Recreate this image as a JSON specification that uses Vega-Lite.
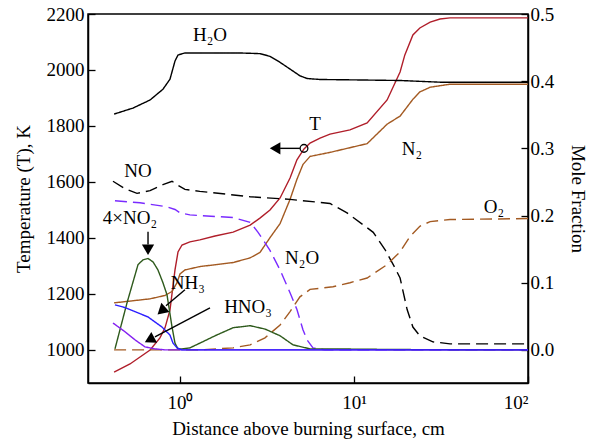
{
  "$schema": "https://vega.github.io/schema/vega-lite/v6.json",
  "width": 440,
  "height": 369,
  "autosize": {"type": "none"},
  "padding": {"left": 88, "top": 14, "right": 72, "bottom": 62},
  "config": {
    "view": {"stroke": "#000", "strokeWidth": 1.5},
    "font": "Liberation Serif",
    "axis": {
      "labelFont": "Liberation Serif",
      "titleFont": "Liberation Serif",
      "labelFontSize": 19,
      "titleFontSize": 19,
      "titleFontWeight": "normal",
      "labelColor": "#000",
      "titleColor": "#000",
      "domainColor": "#000",
      "tickColor": "#000",
      "domainWidth": 1.5,
      "tickWidth": 1.3,
      "tickSize": -7,
      "labelPadding": 11,
      "grid": false
    }
  },
  "datasets": {
    "temperature": [
      {"x": 0.418, "T": 921}, {"x": 0.516, "T": 950}, {"x": 0.673, "T": 1000},
      {"x": 0.767, "T": 1043}, {"x": 0.82, "T": 1079}, {"x": 0.876, "T": 1143},
      {"x": 0.936, "T": 1286}, {"x": 0.974, "T": 1350}, {"x": 1.027, "T": 1375},
      {"x": 1.14, "T": 1386}, {"x": 1.3, "T": 1393}, {"x": 1.59, "T": 1407},
      {"x": 2.02, "T": 1421}, {"x": 2.53, "T": 1446}, {"x": 2.88, "T": 1471},
      {"x": 3.29, "T": 1500}, {"x": 3.76, "T": 1543}, {"x": 4.29, "T": 1614},
      {"x": 4.7, "T": 1679}, {"x": 5.16, "T": 1718}, {"x": 5.59, "T": 1739},
      {"x": 6.38, "T": 1757}, {"x": 7.28, "T": 1771}, {"x": 9.48, "T": 1786},
      {"x": 11.9, "T": 1811}, {"x": 15.5, "T": 1893}, {"x": 18.4, "T": 1993},
      {"x": 19.6, "T": 2054}, {"x": 21.8, "T": 2125}, {"x": 23.9, "T": 2150},
      {"x": 27.4, "T": 2171}, {"x": 31.2, "T": 2182}, {"x": 35.6, "T": 2186},
      {"x": 100, "T": 2186}
    ],
    "species": [
      {"s": "H2O", "x": 0.418, "m": 0.351}, {"s": "H2O", "x": 0.537, "m": 0.36},
      {"s": "H2O", "x": 0.673, "m": 0.372}, {"s": "H2O", "x": 0.798, "m": 0.388},
      {"s": "H2O", "x": 0.876, "m": 0.403}, {"s": "H2O", "x": 0.936, "m": 0.43},
      {"s": "H2O", "x": 0.974, "m": 0.439}, {"s": "H2O", "x": 1.068, "m": 0.442},
      {"s": "H2O", "x": 1.59, "m": 0.442}, {"s": "H2O", "x": 2.21, "m": 0.442},
      {"s": "H2O", "x": 2.88, "m": 0.441}, {"s": "H2O", "x": 3.29, "m": 0.437},
      {"s": "H2O", "x": 3.76, "m": 0.428}, {"s": "H2O", "x": 4.29, "m": 0.418},
      {"s": "H2O", "x": 4.89, "m": 0.408}, {"s": "H2O", "x": 5.37, "m": 0.404},
      {"s": "H2O", "x": 6.38, "m": 0.4025}, {"s": "H2O", "x": 9.48, "m": 0.402},
      {"s": "H2O", "x": 18.4, "m": 0.401}, {"s": "H2O", "x": 31.2, "m": 0.3985},
      {"s": "H2O", "x": 100, "m": 0.3985},

      {"s": "N2", "x": 0.418, "m": 0.07}, {"s": "N2", "x": 0.673, "m": 0.076},
      {"s": "N2", "x": 0.82, "m": 0.081}, {"s": "N2", "x": 0.9, "m": 0.087},
      {"s": "N2", "x": 0.961, "m": 0.1}, {"s": "N2", "x": 1.0, "m": 0.113},
      {"s": "N2", "x": 1.068, "m": 0.119}, {"s": "N2", "x": 1.3, "m": 0.124},
      {"s": "N2", "x": 2.02, "m": 0.13}, {"s": "N2", "x": 2.53, "m": 0.137},
      {"s": "N2", "x": 2.88, "m": 0.145}, {"s": "N2", "x": 3.29, "m": 0.167},
      {"s": "N2", "x": 3.76, "m": 0.188}, {"s": "N2", "x": 4.29, "m": 0.224},
      {"s": "N2", "x": 4.7, "m": 0.254}, {"s": "N2", "x": 5.09, "m": 0.276},
      {"s": "N2", "x": 5.59, "m": 0.288}, {"s": "N2", "x": 7.28, "m": 0.294},
      {"s": "N2", "x": 11.9, "m": 0.307}, {"s": "N2", "x": 15.5, "m": 0.336},
      {"s": "N2", "x": 18.4, "m": 0.348}, {"s": "N2", "x": 21.8, "m": 0.373},
      {"s": "N2", "x": 23.9, "m": 0.384}, {"s": "N2", "x": 27.4, "m": 0.391},
      {"s": "N2", "x": 35.6, "m": 0.3955}, {"s": "N2", "x": 100, "m": 0.3955},

      {"s": "NO", "x": 0.412, "m": 0.251}, {"s": "NO", "x": 0.483, "m": 0.24},
      {"s": "NO", "x": 0.566, "m": 0.233}, {"s": "NO", "x": 0.673, "m": 0.237},
      {"s": "NO", "x": 0.798, "m": 0.246}, {"s": "NO", "x": 0.9, "m": 0.251},
      {"s": "NO", "x": 0.974, "m": 0.245}, {"s": "NO", "x": 1.068, "m": 0.239},
      {"s": "NO", "x": 1.3, "m": 0.236}, {"s": "NO", "x": 2.53, "m": 0.228},
      {"s": "NO", "x": 4.29, "m": 0.224}, {"s": "NO", "x": 7.28, "m": 0.218},
      {"s": "NO", "x": 9.12, "m": 0.204}, {"s": "NO", "x": 12.9, "m": 0.175},
      {"s": "NO", "x": 15.1, "m": 0.149}, {"s": "NO", "x": 17.2, "m": 0.122},
      {"s": "NO", "x": 18.4, "m": 0.107}, {"s": "NO", "x": 20.2, "m": 0.06},
      {"s": "NO", "x": 21.8, "m": 0.034}, {"s": "NO", "x": 23.9, "m": 0.021},
      {"s": "NO", "x": 28.4, "m": 0.012}, {"s": "NO", "x": 35.6, "m": 0.009},
      {"s": "NO", "x": 100, "m": 0.009},

      {"s": "N2O", "x": 0.423, "m": 0.222}, {"s": "N2O", "x": 0.589, "m": 0.219},
      {"s": "N2O", "x": 0.842, "m": 0.213}, {"s": "N2O", "x": 0.936, "m": 0.209},
      {"s": "N2O", "x": 1.0, "m": 0.204}, {"s": "N2O", "x": 1.14, "m": 0.201},
      {"s": "N2O", "x": 1.3, "m": 0.2}, {"s": "N2O", "x": 2.02, "m": 0.197},
      {"s": "N2O", "x": 2.53, "m": 0.19}, {"s": "N2O", "x": 2.81, "m": 0.175},
      {"s": "N2O", "x": 3.29, "m": 0.148}, {"s": "N2O", "x": 3.76, "m": 0.119},
      {"s": "N2O", "x": 4.29, "m": 0.085}, {"s": "N2O", "x": 4.7, "m": 0.06},
      {"s": "N2O", "x": 5.09, "m": 0.03}, {"s": "N2O", "x": 5.37, "m": 0.015},
      {"s": "N2O", "x": 5.81, "m": 0.003}, {"s": "N2O", "x": 6.8, "m": 0.0},
      {"s": "N2O", "x": 100, "m": 0.0},

      {"s": "O2", "x": 0.418, "m": 0.0}, {"s": "O2", "x": 1.3, "m": 0.0},
      {"s": "O2", "x": 2.02, "m": 0.003}, {"s": "O2", "x": 2.53, "m": 0.0075},
      {"s": "O2", "x": 3.08, "m": 0.018}, {"s": "O2", "x": 3.76, "m": 0.037},
      {"s": "O2", "x": 4.29, "m": 0.057}, {"s": "O2", "x": 4.89, "m": 0.079},
      {"s": "O2", "x": 5.59, "m": 0.09}, {"s": "O2", "x": 7.57, "m": 0.094},
      {"s": "O2", "x": 9.48, "m": 0.1}, {"s": "O2", "x": 11.9, "m": 0.107},
      {"s": "O2", "x": 15.5, "m": 0.127}, {"s": "O2", "x": 18.4, "m": 0.146},
      {"s": "O2", "x": 21.0, "m": 0.169}, {"s": "O2", "x": 23.9, "m": 0.184},
      {"s": "O2", "x": 27.4, "m": 0.191}, {"s": "O2", "x": 35.6, "m": 0.194},
      {"s": "O2", "x": 100, "m": 0.1955},

      {"s": "NO2x4", "x": 0.423, "m": 0.0015}, {"s": "NO2x4", "x": 0.452, "m": 0.03},
      {"s": "NO2x4", "x": 0.496, "m": 0.07}, {"s": "NO2x4", "x": 0.537, "m": 0.101},
      {"s": "NO2x4", "x": 0.574, "m": 0.127}, {"s": "NO2x4", "x": 0.613, "m": 0.134},
      {"s": "NO2x4", "x": 0.655, "m": 0.136}, {"s": "NO2x4", "x": 0.7, "m": 0.131},
      {"s": "NO2x4", "x": 0.747, "m": 0.119}, {"s": "NO2x4", "x": 0.798, "m": 0.1},
      {"s": "NO2x4", "x": 0.842, "m": 0.082}, {"s": "NO2x4", "x": 0.9, "m": 0.034},
      {"s": "NO2x4", "x": 0.936, "m": 0.01}, {"s": "NO2x4", "x": 0.974, "m": 0.0015},
      {"s": "NO2x4", "x": 1.027, "m": 0.0015}, {"s": "NO2x4", "x": 1.14, "m": 0.003},
      {"s": "NO2x4", "x": 1.3, "m": 0.01}, {"s": "NO2x4", "x": 1.59, "m": 0.021},
      {"s": "NO2x4", "x": 2.02, "m": 0.033}, {"s": "NO2x4", "x": 2.53, "m": 0.036},
      {"s": "NO2x4", "x": 3.08, "m": 0.031}, {"s": "NO2x4", "x": 3.76, "m": 0.021},
      {"s": "NO2x4", "x": 4.46, "m": 0.0075}, {"s": "NO2x4", "x": 5.59, "m": 0.0015},
      {"s": "NO2x4", "x": 7.28, "m": 0.0015}, {"s": "NO2x4", "x": 18.4, "m": 0.0005},
      {"s": "NO2x4", "x": 100, "m": 0.0},

      {"s": "HNO3", "x": 0.412, "m": 0.04}, {"s": "HNO3", "x": 0.483, "m": 0.027},
      {"s": "HNO3", "x": 0.551, "m": 0.015}, {"s": "HNO3", "x": 0.629, "m": 0.0045},
      {"s": "HNO3", "x": 0.718, "m": 0.0015}, {"s": "HNO3", "x": 0.82, "m": 0.0},
      {"s": "HNO3", "x": 100, "m": 0.0},

      {"s": "NH3", "x": 0.423, "m": 0.067}, {"s": "NH3", "x": 0.483, "m": 0.063},
      {"s": "NH3", "x": 0.655, "m": 0.049}, {"s": "NH3", "x": 0.788, "m": 0.034},
      {"s": "NH3", "x": 0.876, "m": 0.022}, {"s": "NH3", "x": 0.912, "m": 0.01},
      {"s": "NH3", "x": 0.961, "m": 0.003}, {"s": "NH3", "x": 1.027, "m": 0.0},
      {"s": "NH3", "x": 100, "m": 0.0}
    ],
    "labels": [
      {"text": "H₂O", "x": 1.487, "m": 0.469},
      {"text": "T", "x": 5.97, "m": 0.336},
      {"text": "N₂", "x": 21.5, "m": 0.2985},
      {"text": "NO", "x": 0.574, "m": 0.266},
      {"text": "4×NO₂", "x": 0.516, "m": 0.197},
      {"text": "N₂O", "x": 5.03, "m": 0.137},
      {"text": "O₂", "x": 63.8, "m": 0.213},
      {"text": "NH₃", "x": 1.11, "m": 0.1},
      {"text": "HNO₃", "x": 2.46, "m": 0.064}
    ],
    "arrows": [
      {"x": 0.655, "m": 0.176, "x2": 0.655, "m2": 0.157},
      {"x": 1.068, "m": 0.0896, "x2": 0.831, "m2": 0.0657},
      {"x": 1.487, "m": 0.0627, "x2": 0.718, "m2": 0.0194},
      {"x": 4.89, "m": 0.3, "x2": 3.76, "m2": 0.3}
    ],
    "heads": [
      {"x": 0.655, "m": 0.149, "angle": 180},
      {"x": 0.783, "m": 0.058, "angle": 228},
      {"x": 0.668, "m": 0.0149, "angle": 242},
      {"x": 3.52, "m": 0.3, "angle": 270}
    ],
    "marker": [
      {"x": 5.16, "m": 0.3}
    ]
  },
  "layer": [
    {
      "data": {"name": "temperature"},
      "mark": {"type": "line", "color": "#B01E2A", "strokeWidth": 1.4},
      "encoding": {
        "x": {
          "field": "x", "type": "quantitative",
          "scale": {"type": "log", "domain": [0.296, 100], "nice": false},
          "axis": {
            "title": "Distance above burning surface, cm",
            "values": [1, 10, 100],
            "labelExpr": "datum.value == 1 ? '10⁰' : datum.value == 10 ? '10¹' : '10²'",
            "labelPadding": 17,
            "titlePadding": 7,
            "titleColor": "#000"
          }
        },
        "y": {
          "field": "T", "type": "quantitative",
          "scale": {"domain": [882, 2200], "nice": false, "zero": false},
          "axis": {
            "title": "Temperature (T), K",
            "titleColor": "#000",
            "orient": "left",
            "values": [1000, 1200, 1400, 1600, 1800, 2000, 2200],
            "format": "d",
            "titlePadding": 13
          }
        }
      }
    },
    {
      "encoding": {
        "x": {
          "field": "x", "type": "quantitative",
          "scale": {"type": "log", "domain": [0.296, 100], "nice": false},
          "axis": {
            "title": "Distance above burning surface, cm",
            "values": [1, 10, 100],
            "labelExpr": "datum.value == 1 ? '10⁰' : datum.value == 10 ? '10¹' : '10²'",
            "labelPadding": 17,
            "titlePadding": 7,
            "titleColor": "#000"
          }
        },
        "y": {
          "field": "m", "type": "quantitative",
          "scale": {"domain": [-0.0493, 0.5], "nice": false, "zero": false},
          "axis": {
            "title": "Mole Fraction",
            "titleColor": "#000",
            "orient": "right",
            "values": [0, 0.1, 0.2, 0.3, 0.4, 0.5],
            "format": ".1f",
            "labelPadding": 9,
            "titlePadding": 14
          }
        }
      },
      "layer": [
        {
          "data": {"name": "species"},
          "mark": {"type": "line", "strokeWidth": 1.4},
          "encoding": {
            "detail": {"field": "s"},
            "color": {
              "field": "s", "type": "nominal", "legend": null,
              "scale": {
                "domain": ["H2O", "N2", "NO", "N2O", "O2", "NO2x4", "HNO3", "NH3"],
                "range": ["#000000", "#A35A22", "#000000", "#7A2BFF", "#A35A22", "#2E5A1C", "#8420F0", "#2B1DFF"]
              }
            },
            "strokeDash": {
              "field": "s", "type": "nominal", "legend": null,
              "scale": {
                "domain": ["H2O", "N2", "NO", "N2O", "O2", "NO2x4", "HNO3", "NH3"],
                "range": [[1, 0], [1, 0], [12, 6], [12, 6], [12, 6], [1, 0], [1, 0], [1, 0]]
              }
            },
            "order": {"field": "x"}
          }
        },
        {
          "data": {"name": "labels"},
          "mark": {"type": "text", "font": "Liberation Serif", "fontSize": 19, "align": "center", "baseline": "middle", "color": "#000"},
          "encoding": {"text": {"field": "text"}}
        },
        {
          "data": {"name": "arrows"},
          "mark": {"type": "rule", "color": "#000", "strokeWidth": 1.4},
          "encoding": {"x2": {"field": "x2"}, "y2": {"field": "m2"}}
        },
        {
          "data": {"name": "heads"},
          "mark": {"type": "point", "shape": "triangle-up", "filled": true, "color": "#000", "opacity": 1, "size": 150},
          "encoding": {"angle": {"field": "angle", "type": "quantitative", "scale": null}}
        },
        {
          "data": {"name": "marker"},
          "mark": {"type": "point", "shape": "circle", "filled": false, "color": "#000", "opacity": 1, "size": 60, "strokeWidth": 1.3}
        }
      ]
    }
  ],
  "resolve": {"scale": {"y": "independent"}, "axis": {"y": "independent"}}
}
